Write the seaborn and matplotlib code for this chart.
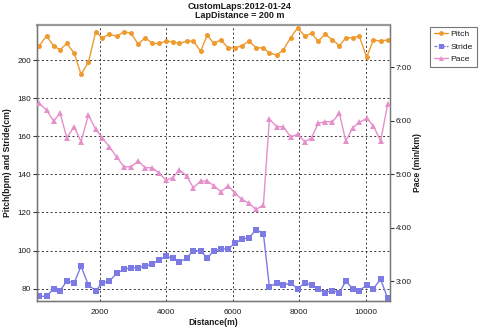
import matplotlib
matplotlib.use("Agg")
import matplotlib.pyplot as plt
from matplotlib.ticker import FuncFormatter, FixedLocator
from matplotlib.lines import Line2D
import pandas as pd
import seaborn as sns

# ---------------- data ----------------
distance_m = [170, 390, 600, 800, 1000, 1220, 1430, 1650, 1870, 2070,
              2280, 2500, 2720, 2930, 3150, 3360, 3580, 3780, 3990, 4190,
              4390, 4610, 4810, 5030, 5230, 5430, 5640, 5860, 6070, 6270,
              6490, 6700, 6920, 7100, 7320, 7520, 7740, 7950, 8170, 8370,
              8570, 8780, 9000, 9210, 9400, 9610, 9810, 10030, 10230, 10450,
              10660]

pitch_bpm = [207.5, 212.7, 207.5, 205.4, 208.7, 203.7, 192.5, 198.8, 214.8, 211.7,
             213.6, 212.5, 214.8, 214.1, 208.4, 211.7, 208.7, 208.7, 209.9, 209.6,
             208.7, 209.9, 209.9, 204.7, 213.1, 208.7, 210.6, 206.4, 206.4, 207.5,
             209.9, 206.4, 206.4, 203.7, 202.6, 205.4, 211.7, 216.9, 212.5, 214.1,
             209.9, 213.6, 210.6, 207.5, 211.7, 211.7, 212.5, 201.4, 210.6, 209.9,
             210.6]

stride_cm = [76.0, 76.0, 80.0, 79.0, 84.0, 83.0, 91.8, 81.9, 79.0, 83.0,
             84.0, 88.0, 90.1, 91.1, 91.1, 91.8, 93.0, 95.0, 97.0, 96.0,
             94.1, 96.0, 100.0, 100.0, 96.0, 100.0, 100.9, 100.9, 104.0, 105.9,
             106.8, 111.0, 108.9, 81.0, 83.0, 81.9, 83.0, 80.0, 83.0, 81.9,
             80.0, 77.9, 79.0, 77.9, 84.0, 80.0, 79.0, 81.9, 80.0, 85.0,
             75.0]

pace_sec_per_km = [379.6, 372.0, 359.7, 368.3, 340.9, 353.3, 336.4, 366.4, 350.3, 340.9,
                   330.8, 319.6, 308.3, 308.3, 314.7, 307.2, 307.2, 300.9, 293.4, 296.0,
                   304.6, 297.9, 284.7, 292.2, 292.2, 287.0, 280.2, 287.0, 278.4, 271.7,
                   267.2, 260.4, 265.3, 361.9, 353.3, 353.3, 342.0, 344.7, 336.4, 340.9,
                   357.1, 358.9, 358.9, 368.3, 337.2, 352.1, 358.2, 362.7, 354.4, 337.2,
                   378.4]

series_names = ["Pitch", "Stride", "Pace"]
title_lines = ["CustomLaps:2012-01-24", "LapDistance = 200 m"]
x_ticks = [2000, 4000, 6000, 8000, 10000]
left_ticks = [80, 100, 120, 140, 160, 180, 200]
pace_ticks = [180, 240, 300, 360, 420]
x_label = "Distance(m)"
left_label = "Pitch(bpm) and Stride(cm)"
right_label = "Pace (min/km)"

# ---------------- styling ----------------
sns.set_style("white")
plt.rcParams['font.family'] = ['Liberation Sans', 'DejaVu Sans']

c_pitch = "#EE9A2E"
c_stride = "#7B7BE3"
c_pace = "#E58FCB"
text_c = "#1a1a1a"
grid_c = "#333333"

df = pd.DataFrame({"Distance": distance_m, "Pitch": pitch_bpm,
                   "Stride": stride_cm, "Pace": pace_sec_per_km})

W, H = 480, 329
L, R, T, B = 37.3, 389.5, 25.0, 300.7
fig = plt.figure(figsize=(W / 100, H / 100), dpi=100)
ax = fig.add_axes([L / W, 1 - B / H, (R - L) / W, (B - T) / H])

sns.lineplot(data=df, x="Distance", y="Pitch", ax=ax, color=c_pitch,
             marker="o", markersize=3.6, markeredgewidth=0, linewidth=1.0,
             errorbar=None, legend=False, zorder=3)
sns.lineplot(data=df, x="Distance", y="Stride", ax=ax, color=c_stride,
             marker="s", markersize=4.0, markeredgewidth=0, linewidth=1.0,
             errorbar=None, legend=False, zorder=3)

ax.set_xlim(112, 10717)
ax.set_ylim(73.7, 218.4)
ax.xaxis.set_major_locator(FixedLocator(x_ticks))
ax.yaxis.set_major_locator(FixedLocator(left_ticks))
ax.grid(True, color=grid_c, linestyle=(0, (2, 2.5)), linewidth=0.7)
ax.set_axisbelow(True)

ax2 = ax.twinx()
sns.lineplot(data=df, x="Distance", y="Pace", ax=ax2, color=c_pace,
             marker="^", markersize=3.8, markeredgewidth=0, linewidth=1.0,
             errorbar=None, legend=False, zorder=3)
ax2.set_ylim(157.9, 467.5)
ax2.yaxis.set_major_locator(FixedLocator(pace_ticks))
ax2.yaxis.set_major_formatter(FuncFormatter(lambda s, _: f"{int(s // 60)}:{int(round(s % 60)):02d}"))
ax2.grid(False)
ax2.set_xlim(112, 10717)

for a in (ax, ax2):
    for side, sp in a.spines.items():
        sp.set_color("#777777")
        sp.set_linewidth(0.9)
ax.spines["left"].set_color("#333333")
ax.spines["bottom"].set_color("#333333")
ax.spines["top"].set_color("#999999")
ax.spines["top"].set_linewidth(1.6)
ax2.spines["top"].set_visible(False)

ax.tick_params(axis="both", which="major", direction="out", length=3, width=0.8,
               color="#333333", labelsize=5.9, labelcolor=text_c, pad=1.5)
ax.tick_params(axis="x", pad=3.2)
ax2.tick_params(axis="y", direction="out", length=3, width=0.8, color="#333333",
                labelsize=5.9, labelcolor=text_c, pad=1.5)

ax.set_xlabel(x_label, fontsize=6.2, fontweight="bold", color=text_c)
ax.set_ylabel(left_label, fontsize=6.2, fontweight="bold", color=text_c)
ax2.set_ylabel(right_label, fontsize=6.2, fontweight="bold", color=text_c)
ax.xaxis.set_label_coords(0.5, -(318.0 - B) / (B - T))
ax.yaxis.set_label_coords(-(L - 12.5) / (R - L), 0.5)
ax2.yaxis.set_label_coords((413.5 - L) / (R - L), 0.5)

fig.text(0.5, 1 - 6.7 / H, title_lines[0], ha="center", va="center",
         fontsize=6.5, fontweight="bold", color=text_c)
fig.text(0.5, 1 - 16.0 / H, title_lines[1], ha="center", va="center",
         fontsize=6.5, fontweight="bold", color=text_c)

handles = [
    Line2D([], [], color=c_pitch, marker="o", markersize=3.4, markeredgewidth=0, linewidth=1.0),
    Line2D([], [], color=c_stride, marker="s", markersize=3.6, markeredgewidth=0, linewidth=1.0, linestyle=(0, (2, 1))),
    Line2D([], [], color=c_pace, marker="^", markersize=3.6, markeredgewidth=0, linewidth=1.0),
]
leg = fig.legend(handles, series_names, loc="upper left",
                 bbox_to_anchor=(430.3 / W, 1 - 26.7 / H),
                 frameon=True, fancybox=False, edgecolor="#555555",
                 fontsize=6.1, handlelength=1.6, handletextpad=0.35,
                 borderpad=0.45, labelspacing=0.5, borderaxespad=0.0)
leg.get_frame().set_linewidth(0.8)
for t in leg.get_texts():
    t.set_color(text_c)

fig.savefig("out.png", dpi=100)
